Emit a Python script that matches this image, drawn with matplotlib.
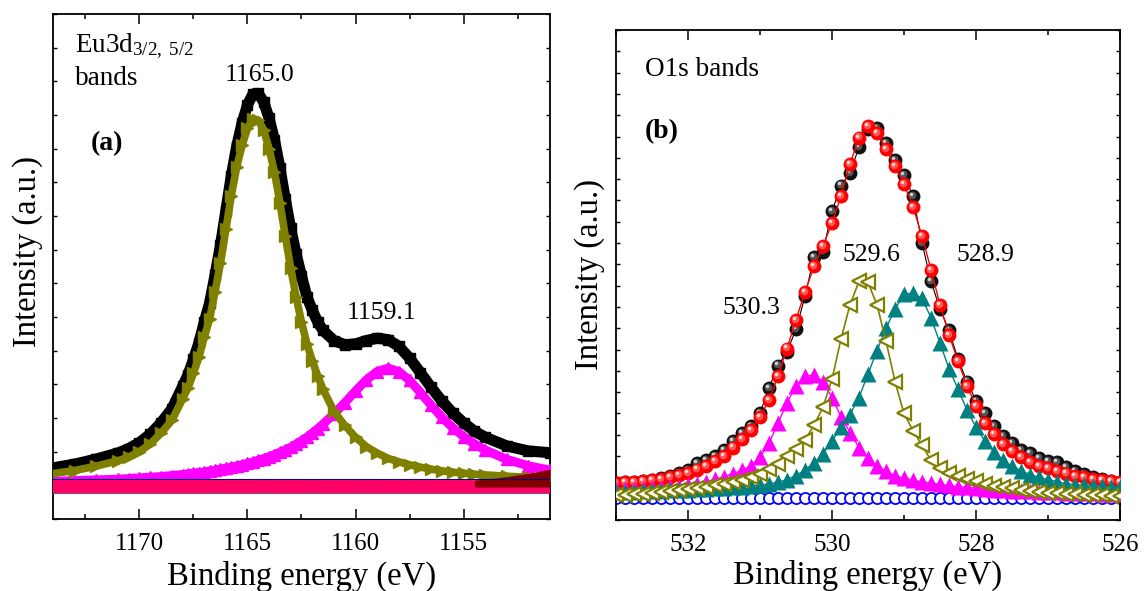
import matplotlib
matplotlib.use('Agg')
import matplotlib.pyplot as plt
from matplotlib.ticker import MultipleLocator, NullFormatter
from matplotlib.transforms import offset_copy

plt.rcParams['font.family'] = 'Liberation Serif'
plt.rcParams['mathtext.fontset'] = 'custom'
plt.rcParams['mathtext.rm'] = 'Liberation Serif'
plt.rcParams['mathtext.it'] = 'Liberation Serif:italic'

# ------------------------------
# (a) Eu3d bands
# ------------------------------
eu_ev = [1174, 1173, 1172, 1171, 1170.5, 1170, 1169.5, 1169, 1168.5, 1168,
         1167.75, 1167.5, 1167.25, 1167, 1166.75, 1166.5, 1166.25, 1166, 1165.75, 1165.5,
         1165.25, 1165, 1164.75, 1164.5, 1164.25, 1164, 1163.75, 1163.5, 1163.25, 1163,
         1162.75, 1162.5, 1162.25, 1162, 1161.75, 1161.5, 1161, 1160.5, 1160, 1159.5,
         1159, 1158.5, 1158, 1157.5, 1157, 1156.5, 1156, 1155.5, 1155, 1154.5,
         1154, 1153, 1152, 1151]
eu_total = [1.52, 1.63, 1.78, 1.96, 2.09, 2.27, 2.52, 2.86, 3.27, 3.94,
            4.29, 4.74, 5.23, 5.85, 6.42, 7.25, 8.13, 9.16, 10.19, 11.07,
            11.76, 12.3, 12.62, 12.64, 12.39, 11.9, 11.26, 10.43, 9.5, 8.63,
            7.87, 7.22, 6.6, 6.2, 5.85, 5.6, 5.3, 5.18, 5.2, 5.3,
            5.37, 5.33, 5.13, 4.78, 4.35, 3.91, 3.5, 3.15, 2.86, 2.61,
            2.43, 2.17, 2.02, 1.97]
eu_peak1 = [1.35, 1.44, 1.57, 1.73, 1.84, 2.0, 2.23, 2.55, 2.93, 3.57,
            3.9, 4.33, 4.8, 5.4, 5.95, 6.75, 7.6, 8.6, 9.6, 10.45,
            11.1, 11.6, 11.88, 11.85, 11.55, 11.0, 10.3, 9.4, 8.4, 7.45,
            6.6, 5.85, 5.2, 4.7, 4.25, 3.85, 3.2, 2.78, 2.43, 2.15,
            1.96, 1.8, 1.7, 1.61, 1.54, 1.48, 1.43, 1.39, 1.36, 1.33,
            1.31, 1.27, 1.24, 1.22]
eu_peak2 = [1.12, 1.14, 1.16, 1.18, 1.2, 1.22, 1.24, 1.26, 1.29, 1.32,
            1.34, 1.36, 1.38, 1.4, 1.42, 1.45, 1.48, 1.51, 1.54, 1.57,
            1.61, 1.65, 1.69, 1.74, 1.79, 1.85, 1.91, 1.98, 2.05, 2.13,
            2.22, 2.32, 2.43, 2.55, 2.68, 2.82, 3.12, 3.45, 3.8, 4.13,
            4.38, 4.48, 4.38, 4.12, 3.76, 3.38, 3.02, 2.71, 2.45, 2.23,
            2.05, 1.77, 1.58, 1.45]
eu_base_ev = [1174, 1151]
eu_base = [0.95, 0.95]
eu_bg_ev = [1154.5, 1154, 1153, 1152, 1151]
eu_bg_top = [1.15, 1.18, 1.26, 1.36, 1.48]

# ------------------------------
# (b) O1s bands
# ------------------------------
o_ev = [533.0, 532.875, 532.75, 532.625, 532.5, 532.375, 532.25, 532.125, 532.0, 531.875,
        531.75, 531.625, 531.5, 531.375, 531.25, 531.125, 531.0, 530.875, 530.75, 530.625,
        530.5, 530.375, 530.25, 530.125, 530.0, 529.875, 529.75, 529.625, 529.5, 529.375,
        529.25, 529.125, 529.0, 528.875, 528.75, 528.625, 528.5, 528.375, 528.25, 528.125,
        528.0, 527.875, 527.75, 527.625, 527.5, 527.375, 527.25, 527.125, 527.0, 526.875,
        526.75, 526.625, 526.5, 526.375, 526.25, 526.125, 526.0]
o_data = [1.74, 1.78, 1.79, 1.84, 1.9, 1.95, 2.05, 2.2, 2.35, 2.66,
          2.8, 3.0, 3.3, 3.7, 4.07, 4.4, 5.0, 6.2, 7.25, 7.9,
          8.95, 10.5, 12.35, 12.6, 14.5, 15.7, 16.3, 17.5, 18.35, 18.4,
          17.7, 16.9, 16.2, 15.2, 13.0, 11.2, 9.9, 8.9, 7.55, 6.5,
          5.6, 5.0, 4.4, 3.95, 3.6, 3.3, 3.15, 2.9, 2.75, 2.74,
          2.5, 2.3, 2.15, 2.0, 1.92, 1.85, 1.8]
o_fit = [1.75, 1.77, 1.8, 1.83, 1.88, 1.93, 2.0, 2.09, 2.21, 2.37,
         2.55, 2.77, 3.02, 3.4, 3.8, 4.22, 4.85, 5.63, 6.75, 8.05,
         9.4, 10.7, 11.9, 12.85, 13.95, 15.2, 16.7, 17.95, 18.5, 18.15,
         17.4, 16.6, 15.77, 14.7, 13.33, 11.75, 10.1, 8.7, 7.45, 6.3,
         5.35, 4.55, 4.02, 3.58, 3.22, 2.94, 2.72, 2.55, 2.42, 2.3,
         2.18, 2.08, 2.0, 1.94, 1.88, 1.83, 1.79]
o_530 = [1.43, 1.44, 1.45, 1.46, 1.48, 1.5, 1.53, 1.57, 1.62, 1.68,
         1.78, 1.91, 2.03, 2.18, 2.33, 2.55, 2.95, 3.6, 4.55, 5.5,
         6.3, 6.75, 6.8, 6.5, 5.75, 4.85, 4.1, 3.4, 2.9, 2.55,
         2.28, 2.08, 1.95, 1.87, 1.79, 1.73, 1.67, 1.62, 1.57, 1.53,
         1.49, 1.46, 1.43, 1.41, 1.38, 1.36, 1.34, 1.32, 1.31, 1.3,
         1.28, 1.27, 1.26, 1.25, 1.24, 1.23, 1.22]
o_529 = [1.17, 1.19, 1.21, 1.24, 1.27, 1.31, 1.35, 1.4, 1.45, 1.5,
         1.56, 1.63, 1.71, 1.8, 1.88, 2.02, 2.18, 2.4, 2.65, 3.0,
         3.35, 3.75, 4.45, 5.3, 6.6, 8.5, 10.1, 11.2, 11.15, 10.1,
         8.4, 6.5, 5.0, 4.2, 3.5, 2.8, 2.43, 2.22, 2.05, 1.92,
         1.81, 1.7, 1.61, 1.54, 1.48, 1.42, 1.37, 1.32, 1.28, 1.25,
         1.22, 1.2, 1.18, 1.17, 1.16, 1.15, 1.15]
o_528 = [1.3, 1.31, 1.32, 1.34, 1.35, 1.37, 1.39, 1.41, 1.43, 1.45,
         1.47, 1.49, 1.51, 1.54, 1.57, 1.6, 1.64, 1.69, 1.77, 1.9,
         2.08, 2.35, 2.68, 3.1, 3.7, 4.35, 4.95, 5.75, 6.85, 7.95,
         9.0, 9.9, 10.6, 10.65, 10.4, 9.5, 8.3, 7.1, 6.15, 5.15,
         4.35, 3.7, 3.2, 2.8, 2.52, 2.32, 2.13, 2.0, 1.9, 1.8,
         1.71, 1.66, 1.63, 1.61, 1.59, 1.57, 1.55]
o_base = [1.04, 1.04, 1.04, 1.04, 1.04, 1.04, 1.04, 1.04, 1.04, 1.04,
          1.04, 1.04, 1.04, 1.04, 1.04, 1.04, 1.04, 1.04, 1.04, 1.04,
          1.03, 1.03, 1.03, 1.03, 1.03, 1.03, 1.03, 1.03, 1.03, 1.03,
          1.03, 1.03, 1.03, 1.03, 1.03, 1.03, 1.03, 1.03, 1.03, 1.03,
          1.02, 1.02, 1.02, 1.02, 1.02, 1.02, 1.02, 1.02, 1.02, 1.02,
          1.02, 1.02, 1.02, 1.02, 1.02, 1.02, 1.02]


def style_axes(ax, major, minor, ymax):
    ax.set_ylim(0, ymax)
    ax.xaxis.set_major_locator(MultipleLocator(major))
    ax.xaxis.set_minor_locator(MultipleLocator(minor))
    ax.yaxis.set_major_locator(MultipleLocator(1))
    ax.yaxis.set_major_formatter(NullFormatter())
    ax.tick_params(axis='x', which='major', direction='in', length=7, width=1.1,
                   top=True, labelsize=18, pad=10)
    ax.tick_params(axis='x', which='minor', direction='in', length=3.5, width=1.1, top=True)
    ax.tick_params(axis='y', which='major', direction='in', length=3, width=1.0, right=True)
    for s in ax.spines.values():
        s.set_linewidth(1.3)
    ax.set_xlabel('Binding energy (eV)', fontsize=23.5)
    ax.set_ylabel('Intensity (a.u.)', fontsize=23.5)


def spheres(ax, x, y, base, mid, hi, z):
    ax.plot(x, y, 'o', color=base, ms=10, mec='none', zorder=z)
    t1 = offset_copy(ax.transData, fig=fig, x=-0.8, y=0.8, units='points')
    ax.plot(x, y, 'o', color=mid, ms=5.5, mec='none', transform=t1, zorder=z + 0.1)
    t2 = offset_copy(ax.transData, fig=fig, x=-1.5, y=1.5, units='points')
    ax.plot(x, y, 'o', color=hi, ms=2.5, mec='none', transform=t2, zorder=z + 0.2)


fig = plt.figure(figsize=(11.45, 5.91), dpi=100)
ax1 = fig.add_axes([53 / 1145, 1 - 519 / 591, 497 / 1145, 505 / 591])
ax2 = fig.add_axes([616 / 1145, 1 - 520 / 591, 504 / 1145, 490 / 591])

# --- panel (a)
ax1.plot(eu_ev, eu_total, color='black', lw=8, marker='s', ms=7, zorder=2)
ax1.plot(eu_ev, eu_peak2, color='#ff00ff', lw=6.5, marker='^', ms=8.5, mec='#ff00ff', zorder=3)
ax1.plot(eu_ev, eu_peak1, color='#808000', lw=5.5, marker='>', ms=9, mec='#808000', zorder=4)
ax1.plot(eu_base_ev, eu_base, color='#ff0066', lw=10, solid_capstyle='butt', zorder=5)
ax1.fill_between(eu_bg_ev, 0.95, eu_bg_top, color='#800000', lw=0, zorder=6)
ax1.plot(eu_base_ev, [v + 0.24 for v in eu_base], color='#000080', lw=0.8, zorder=7)
ax1.plot(eu_base_ev, [v - 0.18 for v in eu_base], color='#00a0a0', lw=1.0, ls=':', zorder=7)

ax1.set_xlim(1174, 1151)
style_axes(ax1, 5, 2.5, 15)
ax1.yaxis.set_label_coords(-0.02, 0.53)
ax1.xaxis.set_label_coords(0.5, -0.082)

ax1.text(0.044, 0.925, r'Eu3d$_{\mathrm{3/2,\ 5/2}}$', transform=ax1.transAxes,
         fontsize=19.5, va='baseline', ha='left')
ax1.text(0.044, 0.859, 'bands', transform=ax1.transAxes, fontsize=19.5,
         va='baseline', ha='left')
ax1.text(0.4165, 0.867, '1165.0', transform=ax1.transAxes, fontsize=18.5,
         va='baseline', ha='center')
ax1.text(0.0765, 0.731, '(a)', transform=ax1.transAxes, fontsize=20,
         fontweight='bold', va='baseline', ha='left')
ax1.text(0.662, 0.396, '1159.1', transform=ax1.transAxes, fontsize=18.5,
         va='baseline', ha='center')

# --- panel (b)
ax2.plot(o_ev, o_base, 'o', color='#0000ff', mfc='white', mec='#0000ff', ms=8, mew=1.3, zorder=2)
ax2.plot(o_ev, o_data, color='black', lw=0.8, zorder=3)
spheres(ax2, o_ev, o_data, '#111111', '#555555', '#cfcfcf', 3)
ax2.plot(o_ev, o_fit, color='#ff0000', lw=1.0, zorder=4)
spheres(ax2, o_ev, o_fit, '#ff0000', '#ff5555', '#ffd8d8', 4)
ax2.plot(o_ev, o_530, color='#ff00ff', lw=1.0, marker='^', ms=11, mec='none', zorder=5)
ax2.plot(o_ev, o_528, color='#008080', lw=1.0, marker='^', ms=11, mec='none', zorder=6)
ax2.plot(o_ev, o_529, color='#808000', lw=1.2, marker='<', ms=10, mfc='white',
         mec='#808000', mew=1.6, zorder=7)

ax2.set_xlim(533, 526)
style_axes(ax2, 2, 1, 23)
ax2.yaxis.set_label_coords(-0.022, 0.5)
ax2.xaxis.set_label_coords(0.5, -0.082)

ax2.text(0.0575, 0.906, 'O1s bands', transform=ax2.transAxes, fontsize=19.5,
         va='baseline', ha='left')
ax2.text(0.0575, 0.78, '(b)', transform=ax2.transAxes, fontsize=20,
         fontweight='bold', va='baseline', ha='left')
ax2.text(0.506, 0.529, '529.6', transform=ax2.transAxes, fontsize=18.5,
         va='baseline', ha='center')
ax2.text(0.733, 0.529, '528.9', transform=ax2.transAxes, fontsize=18.5,
         va='baseline', ha='center')
ax2.text(0.268, 0.42, '530.3', transform=ax2.transAxes, fontsize=18.5,
         va='baseline', ha='center')

fig.savefig('out.png', dpi=100)
